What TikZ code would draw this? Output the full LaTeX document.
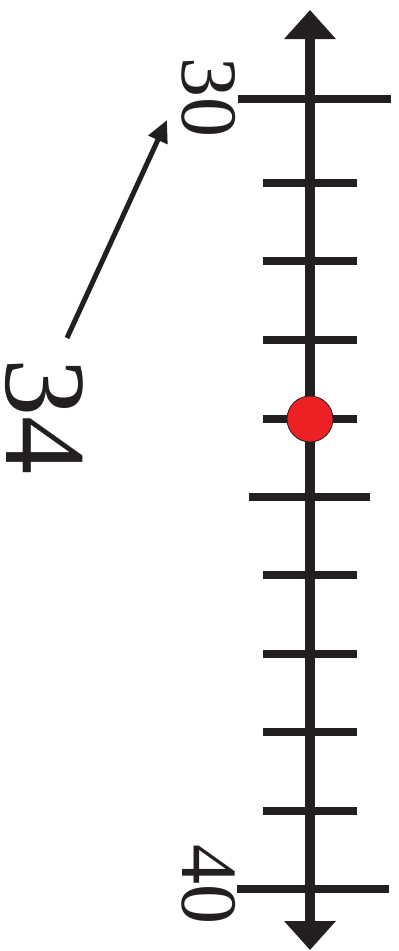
\documentclass[tikz,border=0pt]{standalone}
\usepackage{fontspec}
\setmainfont{Liberation Serif}
\usetikzlibrary{arrows.meta}
\definecolor{ink}{HTML}{231F20}
\definecolor{dotred}{HTML}{ED2024}
\begin{document}
\begin{tikzpicture}[x=1pt,y=-1pt,
  axisline/.style={draw=ink,line width=10pt,{Triangle[width=50pt,length=29pt]}-{Triangle[width=50pt,length=29pt]}},
  tickline/.style={draw=ink,line width=7.5pt},
  numlabel/.style={text=ink,inner sep=0pt,rotate=-90,text height=54pt,text depth=0pt,font=\fontsize{80}{80}\selectfont},
  biglabel/.style={text=ink,inner sep=0pt,rotate=-90,text height=79pt,text depth=0pt,font=\fontsize{116}{116}\selectfont},
  pointer/.style={draw=ink,line width=5pt,-{Triangle[width=20pt,length=22pt]}}]
\useasboundingbox (0,0) rectangle (399,951);
\coordinate (top) at (310,10);
\coordinate (bot) at (310,950);
\draw[axisline] (top) -- (bot);
% long end ticks
\draw[tickline] (238,99) -- (391,99);
\draw[tickline] (237,889) -- (389,889);
% middle (35) tick
\draw[tickline] (249,497) -- (370,497);
% short ticks
\foreach \yy in {183,261,340,419,575,654,732,811}
  \draw[tickline] (263,\yy) -- (357,\yy);
\node[circle,fill=dotred,draw=ink,line width=0.8pt,minimum size=46pt,inner sep=0pt] (dot) at (310,419) {};
\node[numlabel] (l30) at (209,97) {30};
\node[numlabel] (l40) at (209,884) {40};
\node[biglabel] (l34) at (46,416) {34};
\coordinate (pstart) at (67,338);
\coordinate (pend) at (167,120);
\draw[pointer] (pstart) -- (pend);
\end{tikzpicture}
\end{document}
